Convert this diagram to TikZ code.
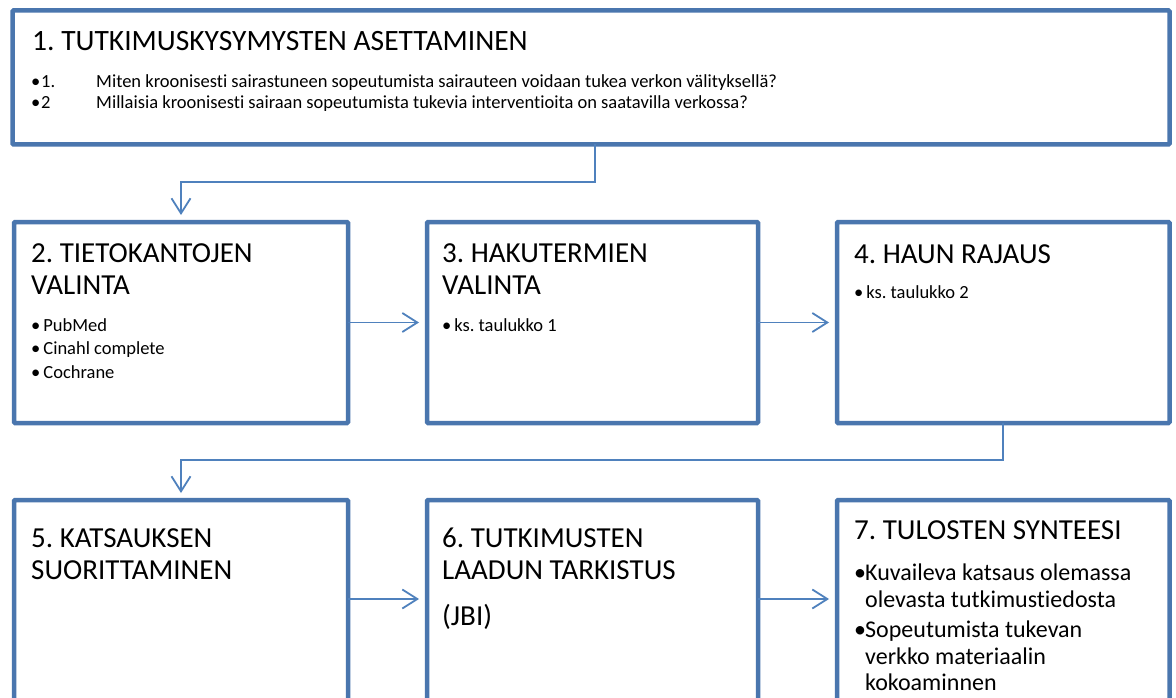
\documentclass[tikz,border=0pt]{standalone}
\usepackage{fontspec}
\setmainfont{Carlito}[Ligatures=NoCommon]
\usetikzlibrary{arrows.meta}
\definecolor{boxblue}{HTML}{4A76AE}
\definecolor{linkblue}{HTML}{4F81BD}
\frenchspacing
\begin{document}
\begin{tikzpicture}[x=1pt,y=-1pt,
  stage/.style={draw=boxblue,line width=4.5pt,fill=white,rectangle,
    inner sep=0pt,outer sep=0pt,anchor=north west,rounded corners=1pt},
  head/.style={anchor=base west,inner sep=0pt,font=\fontsize{29}{32}\selectfont},
  small/.style={anchor=base west,inner sep=0pt,font=\fontsize{18.5}{21}\selectfont},
  item/.style={anchor=base west,inner sep=0pt,font=\fontsize{18.5}{23}\selectfont},
  big/.style={anchor=base west,inner sep=0pt,font=\fontsize{24}{27}\selectfont},
  conn/.style={draw=linkblue,line width=1.8pt,
    -{Straight Barb[length=15pt,width=19pt,line width=1.8pt]}},
]
\useasboundingbox (0,0) rectangle (1176,698);
\clip (0,0) rectangle (1176,698);
\fill[white] (0,0) rectangle (1176,698);

% stage boxes
\node[stage,minimum width=1157pt,minimum height=134pt] (b1) at (12.5,10.5) {};
\node[stage,minimum width=334pt,minimum height=201pt] (b2) at (14,222) {};
\node[stage,minimum width=331pt,minimum height=201pt] (b3) at (427,222) {};
\node[stage,minimum width=332.5pt,minimum height=201pt] (b4) at (837,222) {};
\node[stage,minimum width=334pt,minimum height=220pt] (b5) at (14,500) {};
\node[stage,minimum width=331pt,minimum height=220pt] (b6) at (427,500) {};
\node[stage,minimum width=332.5pt,minimum height=220pt] (b7) at (837,500) {};
\coordinate (row3) at (0,599);

% 1
\node[head,font=\fontsize{29.5}{32}\selectfont] (t1) at (32,51) {1. TUTKIMUSKYSYMYSTEN ASETTAMINEN};
\node[small] (q1b) at (31,88) {•};
\node[small] (q1n) at (41,88) {1.};
\node[small] (q1) at (96,88) {Miten kroonisesti sairastuneen sopeutumista sairauteen voidaan tukea verkon välityksellä?};
\node[small] (q2b) at (31,109) {•};
\node[small] (q2n) at (41,109) {2};
\node[small] (q2) at (96,109) {Millaisia kroonisesti sairaan sopeutumista tukevia interventioita on saatavilla verkossa?};

% 2
\node[head] (t2a) at (31,262) {2. TIETOKANTOJEN};
\node[head] (t2b) at (31,294) {VALINTA};
\node[item] (d1) at (31,331) {•\hspace{3pt}PubMed};
\node[item] (d2) at (31,354.5) {•\hspace{3pt}Cinahl complete};
\node[item] (d3) at (31,378) {•\hspace{3pt}Cochrane};

% 3
\node[head] (t3a) at (442,262) {3. HAKUTERMIEN};
\node[head] (t3b) at (442,294) {VALINTA};
\node[item] (k1) at (442,331) {•\hspace{3pt}ks. taulukko 1};

% 4
\node[head] (t4) at (854,263) {4. HAUN RAJAUS};
\node[item] (k2) at (854,298) {•\hspace{3pt}ks. taulukko 2};

% 5
\node[head] (t5a) at (31,547) {5. KATSAUKSEN};
\node[head] (t5b) at (31,579) {SUORITTAMINEN};

% 6
\node[head] (t6a) at (442,547) {6. TUTKIMUSTEN};
\node[head] (t6b) at (442,579) {LAADUN TARKISTUS};
\node[head] (t6c) at (442,625) {(JBI)};

% 7
\node[head] (t7) at (854,539) {7. TULOSTEN SYNTEESI};
\node[big] (s1) at (854,580) {•};
\node[big] (s1a) at (865,580) {Kuvaileva katsaus olemassa};
\node[big] (s1b) at (865,607) {olevasta tutkimustiedosta};
\node[big] (s2) at (854,637) {•};
\node[big] (s2a) at (865,637) {Sopeutumista tukevan};
\node[big] (s2b) at (865,664) {verkko materiaalin};
\node[big] (s2c) at (865,690) {kokoaminnen};

% connectors
\draw[conn,shorten >=7pt] ([xshift=4pt]b1.south) -- ++(0,37.5) -| (b2.north);
\draw[conn,shorten >=8pt] (b2.east) -- (b3.west);
\draw[conn,shorten >=8pt] (b3.east) -- (b4.west);
\draw[conn,shorten >=7pt] (b4.south) -- ++(0,37) -| (b5.north);
\draw[conn,shorten >=8pt] (b5.east |- row3) -- (b6.west |- row3);
\draw[conn,shorten >=8pt] (b6.east |- row3) -- (b7.west |- row3);
\end{tikzpicture}
\end{document}
